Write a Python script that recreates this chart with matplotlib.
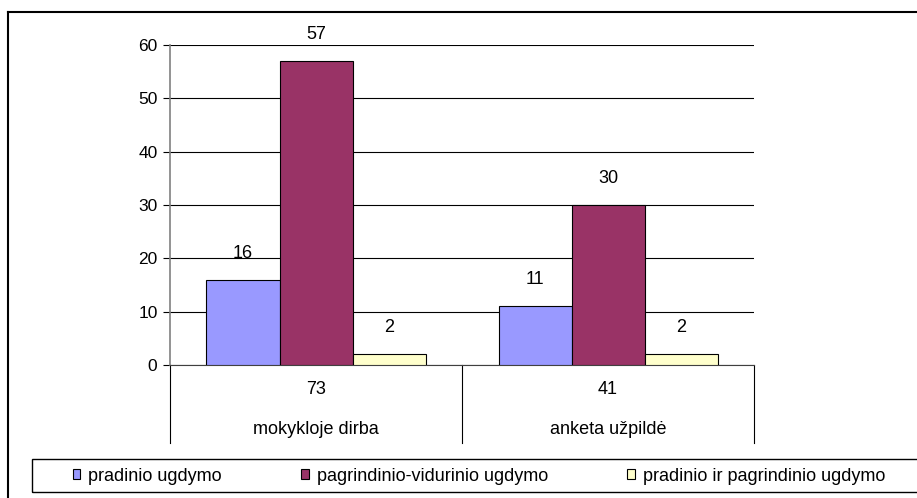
import matplotlib.pyplot as plt
from matplotlib.patches import Rectangle
from matplotlib.lines import Line2D
import numpy as np

plt.rcParams['font.family'] = ['Liberation Sans', 'DejaVu Sans']

# data
categories = ['mokykloje dirba', 'anketa užpildė']
totals = [73, 41]
series_names = ['pradinio ugdymo', 'pagrindinio-vidurinio ugdymo', 'pradinio ir pagrindinio ugdymo']
pradinio = [16, 11]
pagrindinio = [57, 30]
abu = [2, 2]
colors = ['#9999FF', '#993366', '#FFFFCC']

W, H = 917, 498
fig = plt.figure(figsize=(W / 100, H / 100), dpi=100)
ax = fig.add_axes([170 / W, 1 - 365 / H, (754 - 170) / W, (365 - 45) / H])

x = np.arange(len(categories))
bw = 0.25
for i, (vals, name, c) in enumerate(zip([pradinio, pagrindinio, abu], series_names, colors)):
    pos = x + (i - 1) * bw
    ax.bar(pos, vals, width=bw, color=c, edgecolor='black', linewidth=0.8, label=name, zorder=3)
    for p, v in zip(pos, vals):
        ax.annotate(str(v), (p, v), xytext=(0, 13), textcoords='offset points',
                    ha='center', va='bottom', fontsize=13)

ax.set_xlim(-0.5, len(categories) - 0.5)
ax.set_ylim(0, 60)
ax.set_yticks(range(0, 61, 10))
ax.yaxis.grid(True, color='black', linewidth=0.8, zorder=0)
ax.set_xticks([])
ax.tick_params(axis='y', labelsize=12.5, length=5, width=0.8, color='black', pad=4)
for s in ['top', 'right']:
    ax.spines[s].set_visible(False)
ax.spines['left'].set_color('#808080')
ax.spines['left'].set_linewidth(1.2)
ax.spines['bottom'].set_color('#404040')
ax.spines['bottom'].set_linewidth(0.8)

# category table below axis
tr = ax.get_xaxis_transform()
for b in np.arange(len(categories) + 1) - 0.5:
    ax.add_line(Line2D([b, b], [0, -0.245], transform=tr, color='black', linewidth=0.8, clip_on=False))
for xi, t, c in zip(x, totals, categories):
    ax.text(xi, -0.078, str(t), transform=tr, ha='center', va='center', fontsize=13)
    ax.text(xi, -0.2, c, transform=tr, ha='center', va='center', fontsize=13)

# outer border (runs off right/bottom edge)
fig.add_artist(Line2D([8 / W, 8 / W], [0, 1 - 12 / H], transform=fig.transFigure, color='black', linewidth=1.5))
fig.add_artist(Line2D([8 / W, 1], [1 - 12 / H, 1 - 12 / H], transform=fig.transFigure, color='black', linewidth=1.5))

# legend box
fig.add_artist(Rectangle((32 / W, 1 - 492 / H), (W + 10 - 32) / W, (492 - 459) / H,
                         transform=fig.transFigure, fill=False, edgecolor='black', linewidth=1.0))
handles, labels = ax.get_legend_handles_labels()
fig.legend(handles, labels, loc='center left', bbox_to_anchor=(73 / W, 1 - 476 / H), ncol=3,
           frameon=False, fontsize=13, handlelength=0.4, handleheight=0.4, handletextpad=0.45,
           columnspacing=4.4, borderaxespad=0, borderpad=0)

fig.savefig('out.png', dpi=100)
